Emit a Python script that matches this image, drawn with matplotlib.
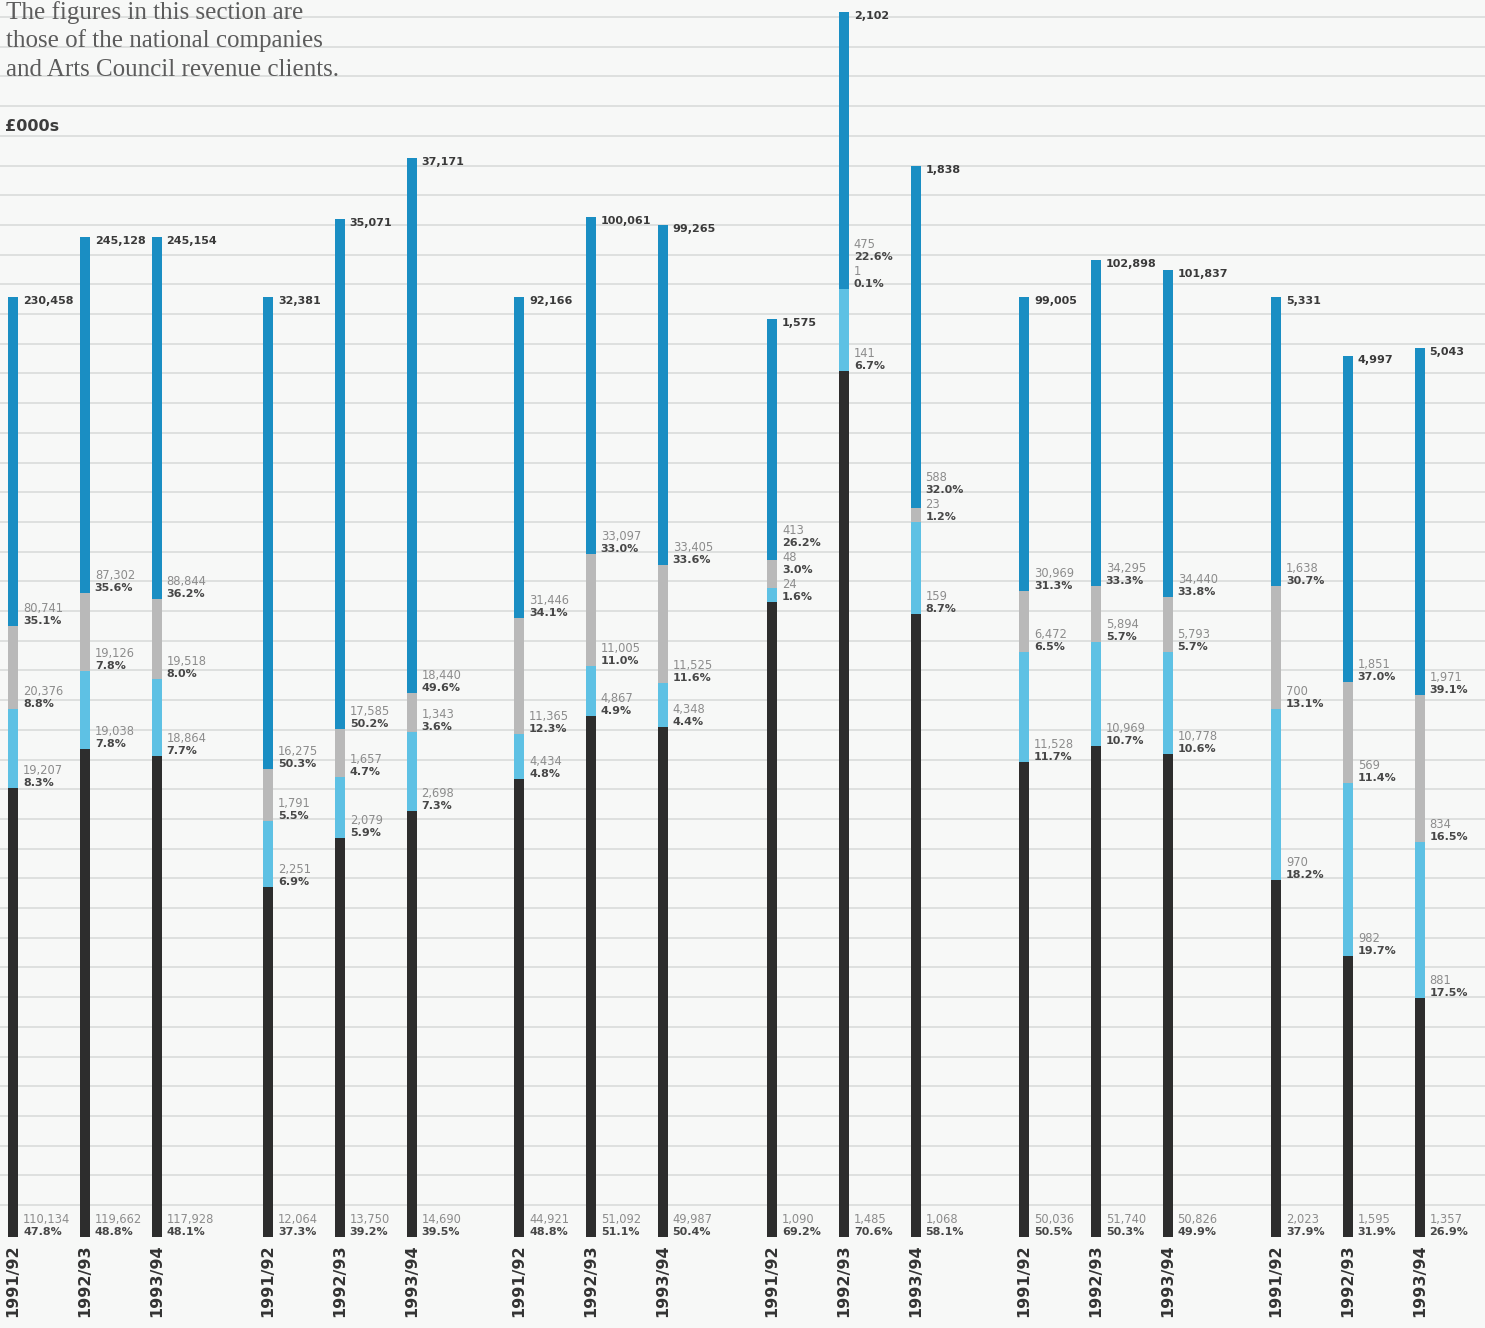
import matplotlib
matplotlib.use("Agg")
import matplotlib.pyplot as plt
import numpy as np

years = ["1991/92", "1992/93", "1993/94"]

# £000s, one row per group, columns = 1991/92, 1992/93, 1993/94
dark = [[110134, 119662, 117928], [12064, 13750, 14690], [44921, 51092, 49987],
        [1090, 1485, 1068], [50036, 51740, 50826], [2023, 1595, 1357]]
dark_pct = [[47.8, 48.8, 48.1], [37.3, 39.2, 39.5], [48.8, 51.1, 50.4],
            [69.2, 70.6, 58.1], [50.5, 50.3, 49.9], [37.9, 31.9, 26.9]]

light = [[19207, 19038, 18864], [2251, 2079, 2698], [4434, 4867, 4348],
         [24, 141, 159], [11528, 10969, 10778], [970, 982, 881]]
light_pct = [[8.3, 7.8, 7.7], [6.9, 5.9, 7.3], [4.8, 4.9, 4.4],
             [1.6, 6.7, 8.7], [11.7, 10.7, 10.6], [18.2, 19.7, 17.5]]

grey = [[20376, 19126, 19518], [1791, 1657, 1343], [11365, 11005, 11525],
        [48, 1, 23], [6472, 5894, 5793], [700, 569, 834]]
grey_pct = [[8.8, 7.8, 8.0], [5.5, 4.7, 3.6], [12.3, 11.0, 11.6],
            [3.0, 0.1, 1.2], [6.5, 5.7, 5.7], [13.1, 11.4, 16.5]]

blue = [[80741, 87302, 88844], [16275, 17585, 18440], [31446, 33097, 33405],
        [413, 475, 588], [30969, 34295, 34440], [1638, 1851, 1971]]
blue_pct = [[35.1, 35.6, 36.2], [50.3, 50.2, 49.6], [34.1, 33.0, 33.6],
            [26.2, 22.6, 32.0], [31.3, 33.3, 33.8], [30.7, 37.0, 39.1]]

totals = [[230458, 245128, 245154], [32381, 35071, 37171], [92166, 100061, 99265],
          [1575, 2102, 1838], [99005, 102898, 101837], [5331, 4997, 5043]]

# Each group has its own vertical scale: the value at the top of its axes
axis_top = [303300, 42610, 121290, 2122, 130290, 7015]

W, H, DPI = 1485, 1328, 100
BASE = 1237            # baseline, pixels from top
UNIT = 71.8            # pixels between bars within a group
group_x0 = [13, 268, 519, 772, 1024, 1276]
BW = 10 / UNIT

C_BLUE = "#1a8ec3"
C_GREY = "#b9b9b9"
C_LIGHT = "#5ec1e4"
C_DARK = "#2d2d2d"
C_VAL = "#8c8c8c"
C_PCT = "#474747"
BG = "#f7f8f7"

fig = plt.figure(figsize=(W / DPI, H / DPI), dpi=DPI, facecolor=BG)

# ruled background lines
bg = fig.add_axes([0, 0, 1, 1], zorder=0)
bg.set_xlim(0, W)
bg.set_ylim(H, 0)
bg.set_facecolor(BG)
bg.axis("off")
for yy in np.arange(17, 1210, 29.7):
    bg.axhline(yy, color="#d9dcdb", lw=1.2, zorder=0)

# header text
header = ["The figures in this section are",
          "those of the national companies",
          "and Arts Council revenue clients."]
for line, yb in zip(header, [19, 47, 76]):
    fig.text(6 / W, 1 - yb / H, line, family="Liberation Serif",
             fontsize=18, color="#5c5c5c", va="baseline", ha="left")
fig.text(5 / W, 1 - 131 / H, "£000s", family="DejaVu Sans", fontweight="bold",
         fontsize=11.5, color="#3d3d3d", va="baseline", ha="left")

LABEL_GAP = 27  # minimum pixels between stacked two-line labels

for g in range(6):
    left = group_x0[g] - 0.15 * UNIT
    ax = fig.add_axes([left / W, (H - BASE) / H, 3 * UNIT / W, BASE / H], zorder=2)
    ax.set_facecolor("none")
    ax.set_xlim(-0.15, 2.85)
    ax.set_ylim(0, axis_top[g])
    for s in ax.spines.values():
        s.set_visible(False)
    ax.set_yticks([])
    ax.set_xticks(range(3))
    ax.set_xticklabels(years, rotation=90, fontweight="bold", fontsize=11.5,
                       color="#333333", family="DejaVu Sans")
    ax.tick_params(axis="x", length=0, pad=5.5)

    x = np.arange(3)
    segs = [(dark[g], dark_pct[g], C_DARK), (light[g], light_pct[g], C_LIGHT),
            (grey[g], grey_pct[g], C_GREY), (blue[g], blue_pct[g], C_BLUE)]
    bottom = np.zeros(3)
    bottoms = []
    for vals, pcts, col in segs:
        ax.bar(x, vals, width=BW, bottom=bottom, color=col, linewidth=0, zorder=3)
        bottoms.append(bottom.copy())
        bottom = bottom + np.array(vals)

    fig.canvas.draw()
    for i in range(3):
        prev_base = -1e9
        for k, (vals, pcts, col) in enumerate(segs):
            b = bottoms[k][i]
            ypix = ax.transData.transform((0, b))[1]
            base_pix = ypix + 2
            if base_pix < prev_base + LABEL_GAP:
                base_pix = prev_base + LABEL_GAP
            prev_base = base_pix
            shift = base_pix - ypix
            ax.annotate(f"{pcts[i]:.1f}%", xy=(i + BW / 2, b), xytext=(5, shift),
                        textcoords="offset pixels", va="baseline", ha="left",
                        fontsize=8, fontweight="bold", color=C_PCT, zorder=4)
            ax.annotate(f"{vals[i]:,}", xy=(i + BW / 2, b), xytext=(5, shift + 12),
                        textcoords="offset pixels", va="baseline", ha="left",
                        fontsize=8.3, color=C_VAL, zorder=4)
        ax.annotate(f"{totals[g][i]:,}", xy=(i + BW / 2, bottom[i]), xytext=(5, 1),
                    textcoords="offset pixels", va="top", ha="left",
                    fontsize=8, fontweight="bold", color="#3a3a3a", zorder=4)

fig.savefig("out.png", dpi=DPI, facecolor=BG)
